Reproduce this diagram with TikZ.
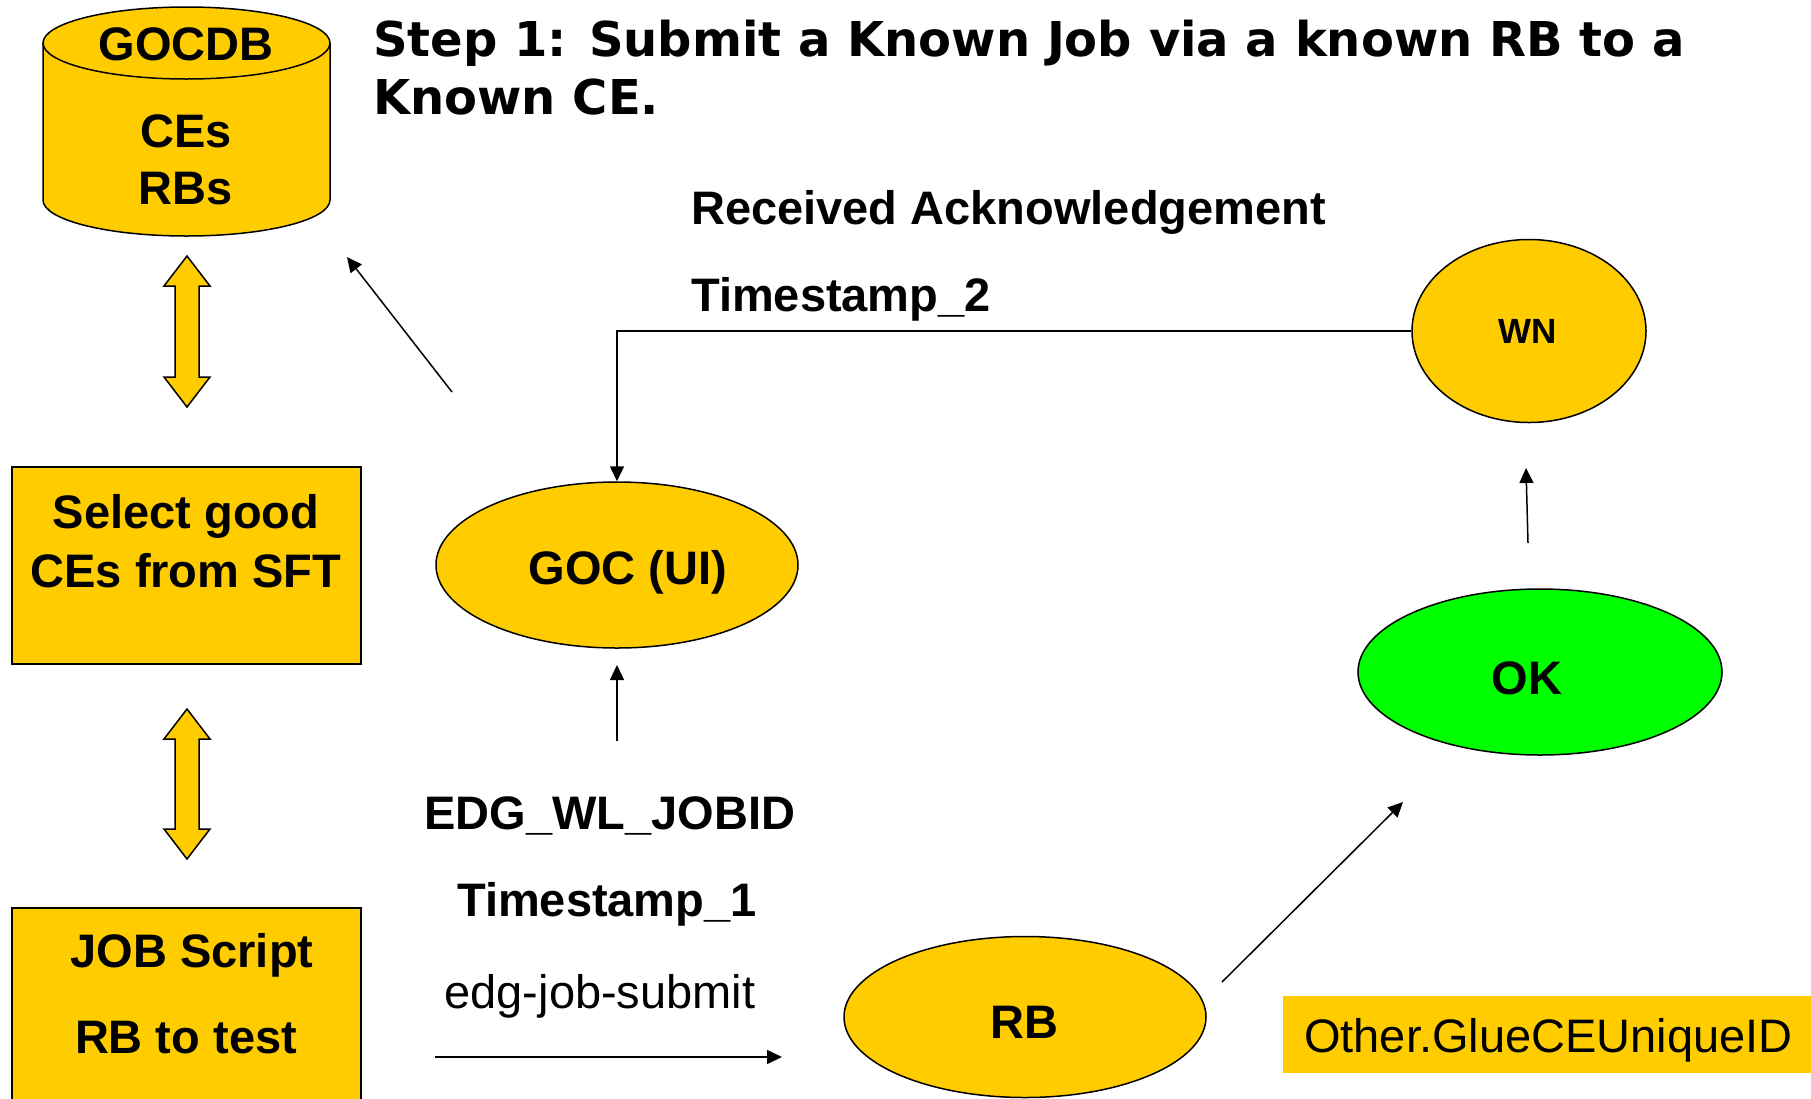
\documentclass[tikz,border=0pt]{standalone}
\usepackage{fontspec}
\setmainfont{Liberation Sans}
\newfontfamily\verdanalike{DejaVu Sans}
\usetikzlibrary{arrows.meta,shapes.geometric}
\definecolor{gold}{HTML}{FFCC00}
\definecolor{okgreen}{HTML}{00FF00}
\newcommand\txtsize[1]{\fontsize{#1}{#1}\selectfont}

\begin{document}
\begin{tikzpicture}[x=1pt,y=1pt,
  outline/.style={draw=black,line width=1.5pt},
  oval/.style={ellipse,outline,fill=gold,inner sep=0pt},
  box/.style={rectangle,outline,fill=gold,inner sep=0pt},
  lbl/.style={anchor=base,inner sep=0pt,font=\txtsize{47}\bfseries},
  plain/.style={anchor=base,inner sep=0pt,font=\txtsize{47}},
  heading/.style={anchor=base west,inner sep=0pt,font=\verdanalike\bfseries\txtsize{48}},
  conn/.style={line width=1.5pt,-{Triangle[length=15pt,width=14pt]}},
  dblarrow/.style={fill=gold,draw=black,line width=1.5pt,line join=miter}]

\useasboundingbox (0,0) rectangle (1811,-1098);
\fill[white] (0,0) rectangle (1811,-1098);

% GOCDB database cylinder
\fill[gold] (43,-43) -- (43,-200) arc[start angle=180,end angle=360,x radius=143.5,y radius=36]
  -- (330,-43) arc[start angle=0,end angle=180,x radius=143.5,y radius=36] -- cycle;
\draw[outline] (43,-43) -- (43,-200) arc[start angle=180,end angle=360,x radius=143.5,y radius=36] -- (330,-43);
\draw[outline] (186.5,-43) ellipse[x radius=143.5,y radius=36];
\node[lbl] (gocdb) at (186,-60) {GOCDB};
\node[lbl] (ces) at (186,-147) {CEs};
\node[lbl] (rbs) at (186,-204) {RBs};

% double-headed block arrows on the left column
\draw[dblarrow] (187,-256) -- (210,-286) -- (199,-286) -- (199,-377) -- (210,-377) -- (187,-407)
  -- (164,-377) -- (175,-377) -- (175,-286) -- (164,-286) -- cycle;
\draw[dblarrow] (187,-709) -- (210,-739) -- (199,-739) -- (199,-829) -- (210,-829) -- (187,-859)
  -- (164,-829) -- (175,-829) -- (175,-739) -- (164,-739) -- cycle;

% selection and job boxes
\node[box,minimum width=349pt,minimum height=197pt] (sel) at (186.5,-565.5) {};
\node[lbl] (selA) at (186,-528) {Select good};
\node[lbl] (selB) at (186,-587) {CEs from SFT};

\node[box,minimum width=349pt,minimum height=200pt,anchor=north] (job) at (186.5,-907) {};
\node[lbl] (jobA) at (192,-967) {JOB Script};
\node[lbl] (jobB) at (186,-1053) {RB to test};

% heading
\node[heading] (title1) at (373,-56) {Step 1: Submit a Known Job via a known RB to a};
\node[heading] (title2) at (373,-114) {Known CE.};

% service ovals
\node[oval,minimum width=362pt,minimum height=166pt] (goc) at (617,-565) {};
\node[lbl] at (628,-584) {GOC (UI)};
\node[oval,minimum width=234pt,minimum height=183pt] (wn) at (1529,-331) {};
\node[anchor=base,inner sep=0pt,font=\txtsize{35}\bfseries] at (1528,-343) {WN};
\node[oval,fill=okgreen,minimum width=364pt,minimum height=166pt] (ok) at (1540,-672) {};
\node[lbl] at (1527,-694) {OK};
\node[oval,minimum width=362pt,minimum height=161pt] (rb) at (1025,-1017) {};
\node[lbl] at (1024,-1038) {RB};

% CE identifier tag
\fill[gold] (1283,-996) rectangle (1811,-1073);
\node[anchor=base west,inner sep=0pt,font=\txtsize{47}] (glue) at (1304,-1052) {Other.GlueCEUniqueID};

% connector labels
\node[anchor=base west,inner sep=0pt,font=\txtsize{47}\bfseries] (ack) at (691,-224) {Received Acknowledgement};
\node[anchor=base west,inner sep=0pt,font=\txtsize{47}\bfseries] (ts2) at (691,-311) {Timestamp\_2};
\node[lbl] (jobid) at (610,-829) {EDG\_WL\_JOBID};
\node[lbl] (ts1) at (607,-916) {Timestamp\_1};
\node[plain] (cmd) at (600,-1008) {edg-job-submit};

% free connector ends
\coordinate (gocOut) at (452,-392);
\coordinate (dbIn) at (347,-257);
\coordinate (idOut) at (617,-741);
\coordinate (gocIn) at (617,-665);
\coordinate (subOut) at (435,-1057);
\coordinate (rbIn) at (782,-1057);
\coordinate (rbOut) at (1222,-982);
\coordinate (okIn) at (1403,-802);
\coordinate (okOut) at (1528,-543);
\coordinate (wnIn) at (1526,-468);

% connectors
\draw[conn] (gocOut) -- (dbIn);
\draw[conn] (wn.west) -| (goc.north);
\draw[conn] (idOut) -- (gocIn);
\draw[conn] (subOut) -- (rbIn);
\draw[conn] (rbOut) -- (okIn);
\draw[conn] (okOut) -- (wnIn);
\end{tikzpicture}
\end{document}
